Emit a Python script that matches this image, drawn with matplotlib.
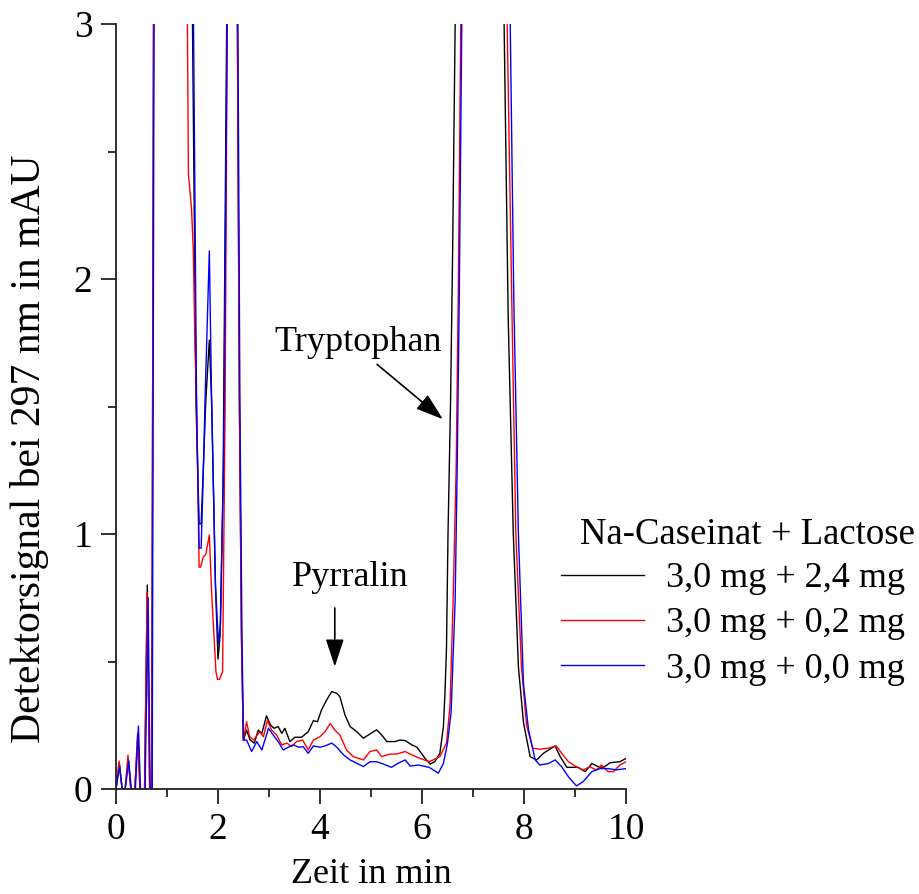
import matplotlib
matplotlib.use("Agg")
import matplotlib.pyplot as plt
from matplotlib.lines import Line2D

plt.rcParams['font.family'] = ['Liberation Serif', 'DejaVu Serif']

# ---------------- data ----------------
x_black = [0.0, 0.065, 0.12, 0.18, 0.24, 0.29, 0.37, 0.43, 0.47, 0.56, 0.614, 0.66, 0.70, 0.76,
           1.40, 1.50, 1.57, 1.63, 1.67, 1.72, 1.76, 1.83, 1.875, 1.95, 2.00, 2.04, 2.10, 2.17, 2.22,
           2.33, 2.38, 2.42, 2.46, 2.497, 2.56, 2.63, 2.71, 2.79, 2.86, 2.95, 3.03, 3.10, 3.18, 3.25,
           3.31, 3.41, 3.51, 3.64, 3.77, 3.87, 3.95, 4.03, 4.13, 4.23, 4.33, 4.39, 4.49, 4.59, 4.72,
           4.85, 4.98, 5.11, 5.21, 5.31, 5.47, 5.57, 5.67, 5.80, 5.90, 6.06, 6.16, 6.25, 6.35, 6.42,
           6.45, 6.48, 6.51, 6.56, 6.60, 6.65, 6.72, 7.55, 7.61, 7.69, 7.79, 7.89, 7.99, 8.12, 8.25,
           8.38, 8.61, 8.71, 8.84, 9.06, 9.20, 9.33, 9.46, 9.56, 9.69, 9.88, 10.0]
y_black = [0.0, 0.10, 0.0, 0.0, 0.12, 0.0, 0.0, 0.22, 0.0, 0.0, 0.80, 0.0, 0.0, 5.0,
           5.0, 3.0, 1.5, 1.04, 1.04, 1.3, 1.52, 1.76, 1.52, 0.8, 0.51, 0.6, 1.2, 3.0, 5.0,
           5.0, 3.0, 1.5, 0.6, 0.19, 0.231, 0.192, 0.18, 0.231, 0.218, 0.287, 0.251, 0.238, 0.245, 0.218,
           0.238, 0.186, 0.203, 0.203, 0.225, 0.268, 0.264, 0.31, 0.349, 0.382, 0.375, 0.362, 0.29, 0.245, 0.225,
           0.199, 0.216, 0.232, 0.212, 0.186, 0.186, 0.192, 0.19, 0.173, 0.164, 0.12, 0.098, 0.107, 0.14, 0.245,
           0.375, 0.55, 1.0, 1.52, 2.1, 3.0, 5.0, 5.0, 3.0, 1.85, 1.0, 0.48, 0.26, 0.127, 0.114,
           0.14, 0.169, 0.127, 0.085, 0.085, 0.068, 0.10, 0.087, 0.085, 0.103, 0.107, 0.12]

x_red = [0.0, 0.06, 0.12, 0.18, 0.235, 0.29, 0.37, 0.42, 0.47, 0.56, 0.61, 0.66, 0.70, 0.76,
         1.33, 1.40, 1.42, 1.48, 1.516, 1.55, 1.58, 1.61, 1.63, 1.66, 1.71, 1.76, 1.83, 1.88, 1.96,
         1.99, 2.03, 2.09, 2.14, 2.18, 2.23, 2.33, 2.38, 2.42, 2.46, 2.497, 2.56, 2.62, 2.70, 2.82,
         2.89, 2.97, 3.05, 3.15, 3.25, 3.35, 3.44, 3.54, 3.66, 3.77, 3.87, 4.00, 4.10, 4.20, 4.29,
         4.39, 4.52, 4.65, 4.85, 4.98, 5.11, 5.21, 5.37, 5.50, 5.67, 5.80, 5.96, 6.14, 6.22, 6.35,
         6.48, 6.55, 6.61, 6.67, 6.71, 6.76, 6.82, 7.60, 7.67, 7.76, 7.84, 7.95, 8.05, 8.17, 8.31,
         8.48, 8.63, 8.74, 8.87, 9.03, 9.16, 9.29, 9.42, 9.52, 9.65, 9.75, 9.88, 10.0]
y_red = [0.0, 0.11, 0.0, 0.0, 0.133, 0.0, 0.0, 0.21, 0.0, 0.0, 0.77, 0.0, 0.0, 5.0,
         5.0, 3.0, 2.41, 2.28, 2.11, 1.72, 1.52, 1.13, 0.87, 0.87, 0.91, 0.92, 0.996, 0.75, 0.46,
         0.43, 0.43, 0.46, 1.52, 3.0, 5.0, 5.0, 3.0, 1.5, 0.6, 0.192, 0.264, 0.205, 0.192, 0.225,
         0.205, 0.27, 0.231, 0.212, 0.173, 0.18, 0.166, 0.186, 0.192, 0.153, 0.192, 0.205, 0.225, 0.257, 0.231,
         0.212, 0.153, 0.127, 0.114, 0.147, 0.153, 0.127, 0.137, 0.137, 0.147, 0.134, 0.12, 0.107, 0.114, 0.127,
         0.18, 0.33, 0.74, 1.26, 1.92, 3.0, 5.0, 5.0, 3.0, 1.92, 1.0, 0.48, 0.25, 0.16, 0.156,
         0.16, 0.169, 0.14, 0.107, 0.087, 0.075, 0.087, 0.075, 0.094, 0.068, 0.068, 0.094, 0.107]

x_blue = [0.0, 0.07, 0.12, 0.18, 0.25, 0.30, 0.38, 0.44, 0.48, 0.57, 0.63, 0.67, 0.71, 0.77,
          1.42, 1.52, 1.58, 1.63, 1.67, 1.72, 1.745, 1.83, 1.875, 1.95, 2.01, 2.05, 2.11, 2.18, 2.23,
          2.34, 2.39, 2.43, 2.47, 2.50, 2.56, 2.66, 2.76, 2.86, 2.99, 3.08, 3.18, 3.28, 3.38, 3.48,
          3.58, 3.67, 3.77, 3.87, 4.00, 4.10, 4.23, 4.33, 4.46, 4.59, 4.72, 4.85, 4.98, 5.11, 5.24,
          5.40, 5.53, 5.67, 5.77, 5.93, 6.14, 6.22, 6.32, 6.42, 6.50, 6.57, 6.65, 6.69, 6.73, 6.78,
          6.84, 7.66, 7.73, 7.80, 7.89, 7.99, 8.09, 8.22, 8.31, 8.48, 8.61, 8.74, 8.87, 9.03, 9.16,
          9.33, 9.49, 9.65, 9.81, 10.0]
y_blue = [0.0, 0.09, 0.0, 0.0, 0.11, 0.0, 0.0, 0.247, 0.0, 0.0, 0.75, 0.0, 0.0, 5.0,
          5.0, 3.0, 1.5, 0.945, 0.945, 1.3, 1.52, 2.11, 1.52, 0.8, 0.57, 0.65, 1.3, 3.0, 5.0,
          5.0, 3.0, 1.5, 0.6, 0.192, 0.192, 0.147, 0.186, 0.153, 0.238, 0.212, 0.186, 0.153, 0.164, 0.173,
          0.164, 0.166, 0.14, 0.169, 0.164, 0.169, 0.18, 0.164, 0.134, 0.114, 0.101, 0.088, 0.107, 0.107, 0.098,
          0.085, 0.101, 0.114, 0.09, 0.094, 0.085, 0.075, 0.062, 0.10, 0.18, 0.30, 0.74, 1.26, 1.92, 3.0,
          5.0, 5.0, 3.0, 1.92, 1.0, 0.41, 0.23, 0.114, 0.094, 0.10, 0.114, 0.087, 0.048, 0.012, 0.029,
          0.068, 0.08, 0.08, 0.075, 0.08]

series_labels = ["3,0 mg + 2,4 mg", "3,0 mg + 0,2 mg", "3,0 mg + 0,0 mg"]
series_colors = ["#000000", "#ff0000", "#0000ff"]
legend_title = "Na-Caseinat + Lactose"
x_ticks = [0, 2, 4, 6, 8, 10]
y_ticks = [0, 1, 2, 3]

# ---------------- figure ----------------
W, H = 920, 894
fig = plt.figure(figsize=(W / 100, H / 100), dpi=100)
ax = fig.add_axes([116 / W, 1 - 789 / H, (626 - 116) / W, (789 - 24) / H])

for xs, ys, c in zip([x_black, x_red, x_blue], [y_black, y_red, y_blue], series_colors):
    ax.plot(xs, ys, color=c, lw=1.0)

ax.set_xlim(0, 10)
ax.set_ylim(0, 3)
ax.set_xticks(x_ticks)
ax.set_yticks(y_ticks)
ax.set_xticks([1, 3, 5, 7, 9], minor=True)
ax.set_yticks([0.5, 1.5, 2.5], minor=True)
for s in ["top", "right"]:
    ax.spines[s].set_visible(False)
for s in ["left", "bottom"]:
    ax.spines[s].set_linewidth(1.3)
    ax.spines[s].set_color("#222222")
ax.tick_params(which="major", direction="out", length=11, width=1.3, color="#222222",
               labelsize=27, pad=6)
ax.tick_params(which="minor", direction="out", length=6, width=1.3, color="#222222")

ax.set_xlabel("Zeit in min", fontsize=26, labelpad=8)
ax.set_ylabel("Detektorsignal bei 297 nm in mAU", fontsize=30)
ax.yaxis.set_label_coords((49 - 116) / 510, (789 - 449) / 765)

# annotations
arrow_style = dict(arrowstyle="-|>,head_length=0.85,head_width=0.28", color="black",
                   lw=1.2, shrinkA=0, shrinkB=0, mutation_scale=20)
ax.text(4.75, 1.75, "Tryptophan", fontsize=26, ha="center", va="center")
ax.annotate("", xy=(6.41, 1.45), xytext=(5.12, 1.665), arrowprops=arrow_style)
ax.text(4.59, 0.83, "Pyrralin", fontsize=26, ha="center", va="center")
ax.annotate("", xy=(4.29, 0.48), xytext=(4.29, 0.71), arrowprops=arrow_style)

# legend
handles = [Line2D([], [], color=c, lw=1.0) for c in series_colors]
fig.text(580 / W, 1 - 535 / H, legend_title, fontsize=26.5, ha="left", va="center")
fig.legend(handles, series_labels, loc="upper left", bbox_to_anchor=(561 / W, 1 - 562 / H),
           frameon=False, fontsize=26, handlelength=2.3, handletextpad=0.6,
           labelspacing=0.33, borderpad=0, borderaxespad=0)

fig.savefig("out.png", dpi=100)
